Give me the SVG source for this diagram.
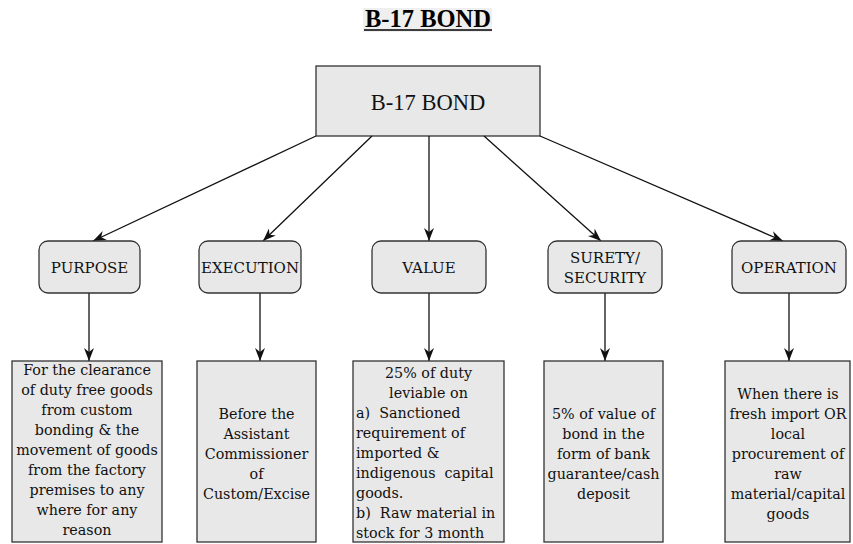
<svg xmlns="http://www.w3.org/2000/svg" width="853" height="544" viewBox="0 0 853 544">
<style>
.box{fill:#e8e8e8;stroke:#333;stroke-width:1.3}
.lbl{font-family:"DejaVu Serif","Liberation Serif",serif;font-size:15px;fill:#111;text-anchor:middle}
.txt{font-family:"DejaVu Serif","Liberation Serif",serif;font-size:14.3px;fill:#111;text-anchor:middle}
.txl{font-family:"DejaVu Serif","Liberation Serif",serif;font-size:14.3px;fill:#111}
.conn line{stroke:#111;stroke-width:1.3;marker-end:url(#ah)}
</style>
<defs>
<marker id="ah" markerUnits="userSpaceOnUse" markerWidth="14" markerHeight="12" refX="13" refY="5" orient="auto">
<path d="M0,0 L13,5 L0,10 L4,5 z" fill="#111"/>
</marker>
</defs>
<rect width="853" height="544" fill="#fff"/>
<g id="title">
<rect x="363" y="8" width="129" height="24" fill="#efefef"/>
<text x="428" y="27" font-family="'Liberation Serif',serif" font-size="24.5" font-weight="bold" text-anchor="middle" fill="#000">B-17 BOND</text>
<line x1="364" y1="30" x2="492" y2="30" stroke="#000" stroke-width="1.5"/>
</g>
<g id="root">
<rect class="box" x="316" y="66" width="224" height="70"/>
<text x="428" y="110" font-family="'Liberation Serif',serif" font-size="22.5" text-anchor="middle" fill="#111">B-17 BOND</text>
</g>
<g class="conn" id="connectors">
<line x1="316" y1="136" x2="93" y2="241"/>
<line x1="372" y1="136" x2="263" y2="241"/>
<line x1="429" y1="136" x2="429" y2="241"/>
<line x1="484" y1="136" x2="601" y2="241"/>
<line x1="540" y1="136" x2="783" y2="241"/>
<line x1="89" y1="293" x2="89" y2="361"/>
<line x1="260" y1="293" x2="260" y2="361"/>
<line x1="429" y1="293" x2="429" y2="361"/>
<line x1="605" y1="293" x2="605" y2="361"/>
<line x1="789" y1="293" x2="789" y2="361"/>
</g>
<g id="purpose">
<rect class="box" x="39" y="241" width="101" height="52" rx="9"/>
<text class="lbl" x="89.5" y="273">PURPOSE</text>
</g>
<g id="execution">
<rect class="box" x="199" y="241" width="102" height="52" rx="9"/>
<text class="lbl" x="250" y="273">EXECUTION</text>
</g>
<g id="value">
<rect class="box" x="372" y="241" width="114" height="52" rx="9"/>
<text class="lbl" x="429" y="273">VALUE</text>
</g>
<g id="surety">
<rect class="box" x="548" y="241" width="114" height="52" rx="9"/>
<text class="lbl" x="605" y="263">SURETY/</text>
<text class="lbl" x="605" y="283">SECURITY</text>
</g>
<g id="operation">
<rect class="box" x="732" y="241" width="114" height="52" rx="9"/>
<text class="lbl" x="789" y="273">OPERATION</text>
</g>
<g id="purpose-detail">
<rect class="box" x="12" y="361" width="150" height="181"/>
<text class="txt" x="87" y="375">For the clearance</text>
<text class="txt" x="87" y="395">of duty free goods</text>
<text class="txt" x="87" y="415">from custom</text>
<text class="txt" x="87" y="435">bonding &amp; the</text>
<text class="txt" x="87" y="455">movement of goods</text>
<text class="txt" x="87" y="475">from the factory</text>
<text class="txt" x="87" y="495">premises to any</text>
<text class="txt" x="87" y="515">where for any</text>
<text class="txt" x="87" y="535">reason</text>
</g>
<g id="execution-detail">
<rect class="box" x="197" y="361" width="119" height="181"/>
<text class="txt" x="256.5" y="419">Before the</text>
<text class="txt" x="256.5" y="439">Assistant</text>
<text class="txt" x="256.5" y="459">Commissioner</text>
<text class="txt" x="256.5" y="479">of</text>
<text class="txt" x="256.5" y="499">Custom/Excise</text>
</g>
<g id="value-detail">
<rect class="box" x="353" y="361" width="151" height="181"/>
<text class="txt" x="428.5" y="378">25% of duty</text>
<text class="txt" x="428.5" y="398">leviable on</text>
<text class="txl" x="356" y="418" xml:space="preserve">a)  Sanctioned</text>
<text class="txl" x="356" y="438">requirement of</text>
<text class="txl" x="356" y="458">imported &amp;</text>
<text class="txl" x="356" y="478" xml:space="preserve">indigenous  capital</text>
<text class="txl" x="356" y="498">goods.</text>
<text class="txl" x="356" y="518" xml:space="preserve">b)  Raw material in</text>
<text class="txl" x="356" y="538">stock for 3 month</text>
</g>
<g id="surety-detail">
<rect class="box" x="544" y="361" width="119" height="181"/>
<text class="txt" x="603.5" y="419">5% of value of</text>
<text class="txt" x="603.5" y="439">bond in the</text>
<text class="txt" x="603.5" y="459">form of bank</text>
<text class="txt" x="603.5" y="479">guarantee/cash</text>
<text class="txt" x="603.5" y="499">deposit</text>
</g>
<g id="operation-detail">
<rect class="box" x="725" y="361" width="125" height="181"/>
<text class="txt" x="788" y="399">When there is</text>
<text class="txt" x="788" y="419">fresh import OR</text>
<text class="txt" x="788" y="439">local</text>
<text class="txt" x="788" y="459">procurement of</text>
<text class="txt" x="788" y="479">raw</text>
<text class="txt" x="788" y="499">material/capital</text>
<text class="txt" x="788" y="519">goods</text>
</g>
</svg>
